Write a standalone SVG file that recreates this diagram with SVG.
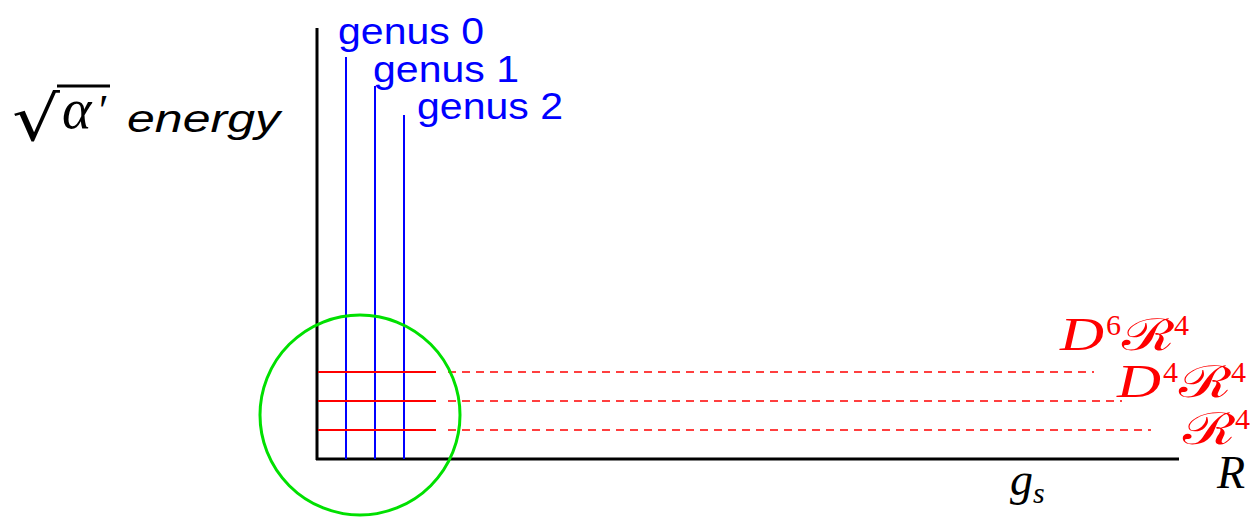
<svg xmlns="http://www.w3.org/2000/svg" width="1258" height="520" viewBox="0 0 1258 520">
<style>
.ax{stroke:#000;stroke-width:3;fill:none}
.bl{stroke:#0000ff;stroke-width:2;fill:none}
.rs{stroke:#ff0000;stroke-width:2;fill:none}
.rd{stroke:#ff0000;stroke-width:1.6;stroke-dasharray:8,6;fill:none}
.gen{font-family:"Liberation Sans","DejaVu Sans",sans-serif;font-size:37px;fill:#0000ff}
.math{font-family:"Liberation Serif","DejaVu Serif",serif;font-style:italic}
.cal{font-family:"DejaVu Serif",serif;font-size:44px}
.sup{font-family:"Liberation Serif",serif;font-size:30px}
.red{fill:#ff0000}
</style>
<rect width="1258" height="520" fill="#fff"/>
<g id="axes">
<line class="ax" x1="317" y1="28" x2="317" y2="460"/>
<line class="ax" x1="316" y1="459" x2="1179" y2="459"/>
</g>
<g id="connectors">
<line class="bl" x1="346" y1="57" x2="346" y2="459"/>
<line class="bl" x1="375" y1="86" x2="375" y2="459"/>
<line class="bl" x1="404" y1="115" x2="404" y2="459"/>
<line class="rs" x1="318" y1="372" x2="436" y2="372"/>
<line class="rs" x1="318" y1="401" x2="436" y2="401"/>
<line class="rs" x1="318" y1="430" x2="436" y2="430"/>
<line class="rd" x1="448" y1="372" x2="1094" y2="372"/>
<line class="rd" x1="448" y1="401" x2="1122" y2="401"/>
<line class="rd" x1="448" y1="430" x2="1151" y2="430"/>
</g>
<g id="circle">
<circle cx="360" cy="415" r="100" fill="none" stroke="#00e000" stroke-width="3"/>
</g>
<g id="genus0"><text class="gen" x="338" y="44" textLength="146" lengthAdjust="spacingAndGlyphs">genus 0</text></g>
<g id="genus1"><text class="gen" x="373" y="82" textLength="146" lengthAdjust="spacingAndGlyphs">genus 1</text></g>
<g id="genus2"><text class="gen" x="417" y="119" textLength="146" lengthAdjust="spacingAndGlyphs">genus 2</text></g>
<g id="ylabel">
<text x="12" y="140" font-family="DejaVu Sans,sans-serif" font-size="62" textLength="48" lengthAdjust="spacingAndGlyphs">√</text>
<line x1="57" y1="86" x2="110" y2="86" stroke="#000" stroke-width="3"/>
<text class="math" x="62" y="128" font-size="56">α</text>
<text x="99" y="125" font-family="Liberation Serif,serif" font-size="44">′</text>
<text x="127" y="132" font-family="Liberation Sans,sans-serif" font-style="italic" font-size="38" textLength="153" lengthAdjust="spacingAndGlyphs">energy</text>
</g>
<g id="D6R4" class="red">
<text class="math" x="1060" y="350" font-size="46" textLength="44" lengthAdjust="spacingAndGlyphs">D</text>
<text class="sup" x="1106" y="335">6</text>
<text class="cal" x="1122" y="350" textLength="52" lengthAdjust="spacingAndGlyphs">ℛ</text>
<text class="sup" x="1174" y="335">4</text>
</g>
<g id="D4R4" class="red">
<text class="math" x="1117" y="397" font-size="46" textLength="44" lengthAdjust="spacingAndGlyphs">D</text>
<text class="sup" x="1163" y="382">4</text>
<text class="cal" x="1179" y="397" textLength="52" lengthAdjust="spacingAndGlyphs">ℛ</text>
<text class="sup" x="1231" y="382">4</text>
</g>
<g id="R4" class="red">
<text class="cal" x="1183" y="444" textLength="52" lengthAdjust="spacingAndGlyphs">ℛ</text>
<text class="sup" x="1235" y="429">4</text>
</g>
<g id="Rlabel"><text class="math" x="1217" y="488" font-size="46">R</text></g>
<g id="gslabel"><text class="math" x="1010" y="495" font-size="46">g<tspan font-size="30" dy="8">s</tspan></text></g>
</svg>
